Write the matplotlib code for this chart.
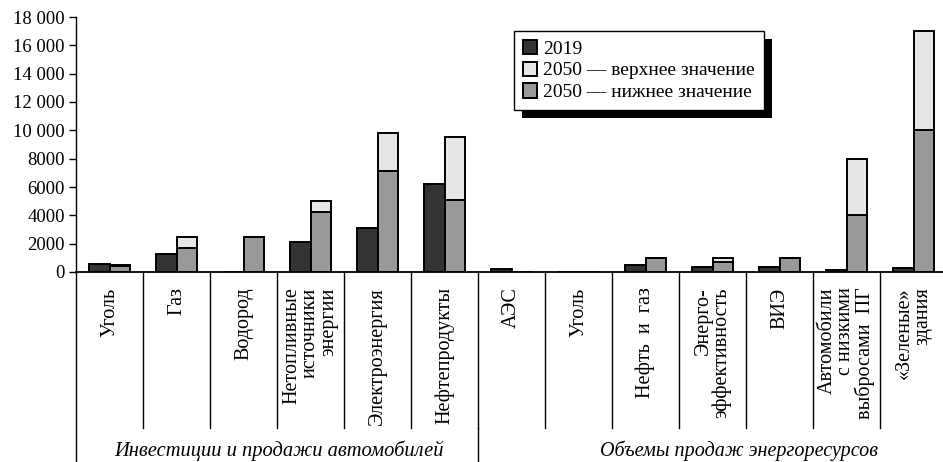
import numpy as np
import matplotlib
matplotlib.use("Agg")
import matplotlib.pyplot as plt
from matplotlib.patches import Rectangle

plt.rcParams['font.family'] = ['Liberation Serif', 'DejaVu Serif']

# категории (по группам)
categories = ["Уголь", "Газ", "Водород", "Нетопливные\nисточники\nэнергии",
              "Электроэнергия", "Нефтепродукты",
              "АЭС", "Уголь", "Нефть  и  газ", "Энерго-\nэффективность", "ВИЭ",
              "Автомобили\nс низкими\nвыбросами  ПГ", "«Зеленые»\nздания"]
groups = ["Инвестиции и продажи автомобилей", "Объемы продаж энергоресурсов"]
group_sizes = [6, 7]

v2019 = [600, 1250, 0, 2100, 3100, 6200, 200, 0, 500, 350, 350, 150, 300]
v2050_low = [400, 1700, 2500, 4250, 7100, 5050, 0, 0, 1000, 700, 1000, 4000, 10000]
v2050_high = [500, 2500, 2500, 5000, 9800, 9500, 0, 0, 1000, 1000, 1000, 8000, 17000]

yticks = [0, 2000, 4000, 6000, 8000, 10000, 12000, 14000, 16000, 18000]

def fmt(v):
    s = str(int(v))
    if v >= 10000:
        s = s[:-3] + " " + s[-3:]
    return s

fig = plt.figure(figsize=(9.43, 4.62), dpi=100)
ax = fig.add_axes([76/943, 190/462, 871/943, 255/462])

n = len(categories)
x = np.arange(n)
low = np.array(v2050_low)
high = np.array(v2050_high)

b1 = ax.bar(x + 0.19, v2019, width=0.31, align='edge', color='#333333',
            edgecolor='black', linewidth=1.4, label='2019')
b3 = ax.bar(x + 0.50, low, width=0.30, align='edge', color='#999999',
            edgecolor='black', linewidth=1.4, label='2050 — нижнее значение')
b2 = ax.bar(x + 0.50, high - low, bottom=low, width=0.30, align='edge',
            color='#e6e6e6', edgecolor='black', linewidth=1.4,
            label='2050 — верхнее значение')

ax.set_xlim(0, n)
ax.set_ylim(0, 18000)
ax.set_yticks(yticks)
ax.set_yticklabels([fmt(v) for v in yticks], fontsize=13.5)
ax.tick_params(axis='y', length=5, width=1, direction='out', pad=3)
ax.set_xticks([])
for s in ['top', 'right']:
    ax.spines[s].set_visible(False)
ax.spines['left'].set_linewidth(1)
ax.spines['bottom'].set_linewidth(1.3)

tr = ax.get_xaxis_transform()
# разделители категорий
for i in range(1, n):
    ax.plot([i, i], [0, -0.612], color='black', lw=1, transform=tr, clip_on=False)
# разделитель групп и продолжение оси
ax.plot([0, 0], [0, -0.75], color='black', lw=1, transform=tr, clip_on=False)
ax.plot([group_sizes[0], group_sizes[0]], [-0.612, -0.75], color='black', lw=1,
        transform=tr, clip_on=False)

for i, lab in enumerate(categories):
    ax.text(i + 0.5, -0.06, lab, rotation=90, ha='center', va='top',
            multialignment='right', fontsize=14.5, linespacing=0.95,
            transform=tr)

ax.text(3.03, -0.70, groups[0], ha='center', va='center', style='italic',
        fontsize=14.8, transform=tr)
ax.text(9.9, -0.70, groups[1], ha='center', va='center', style='italic',
        fontsize=14.5, transform=tr)

leg = ax.legend(handles=[b1, b2, b3], loc='upper left',
                bbox_to_anchor=(0.503, 0.945), fancybox=False, framealpha=1,
                edgecolor='black', fontsize=14, handlelength=0.75,
                handleheight=0.75, handletextpad=0.3, labelspacing=0.2,
                borderpad=0.45, borderaxespad=0)
leg.get_frame().set_linewidth(1)
leg.set_zorder(5)

# тень легенды
fig.canvas.draw()
bb = leg.get_window_extent()
inv = ax.transAxes.inverted()
(x0, y0), (x1, y1) = inv.transform([[bb.x0 + 8, bb.y0 - 8], [bb.x1 + 8, bb.y1 - 8]])
ax.add_patch(Rectangle((x0, y0), x1 - x0, y1 - y0, transform=ax.transAxes,
                       facecolor='black', edgecolor='none', zorder=4.9,
                       clip_on=False))

fig.savefig("out.png", dpi=100)
